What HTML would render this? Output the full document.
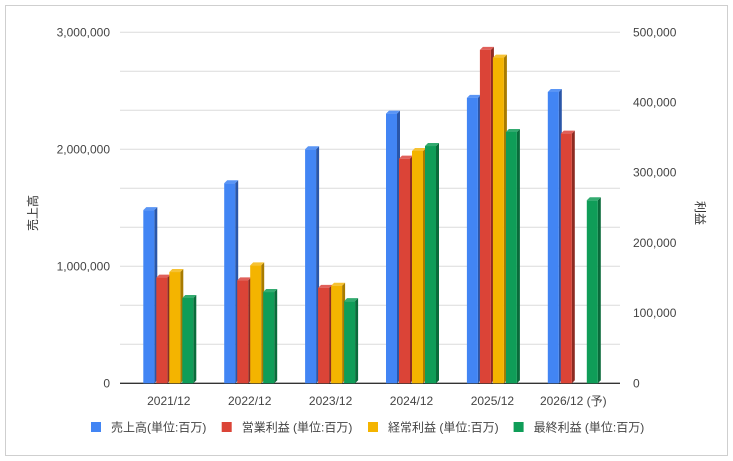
<!DOCTYPE html>
<html><head><meta charset="utf-8">
<style>
html,body{margin:0;padding:0;background:#fff;}
svg{display:block;font-family:"Liberation Sans","Noto Sans CJK JP",sans-serif;}
</style></head>
<body>
<svg id="chart" width="733" height="461" xmlns="http://www.w3.org/2000/svg">
<rect x="5.5" y="5.5" width="722" height="450" fill="#fff" stroke="#cfcfcf"/>
<g id="grid"></g><g id="bars"></g><g id="labels"></g>
<text transform="translate(37,213) rotate(-90)" text-anchor="middle" font-size="12" fill="#333">売上高</text>
<text transform="translate(696,213) rotate(90)" text-anchor="middle" font-size="12" fill="#333">利益</text>
<g id="legend"></g>
</svg>
<script>
const categories=["2021/12","2022/12","2023/12","2024/12","2025/12","2026/12 (予)"];
const revenue=[1480000,1710000,2000000,2305000,2440000,2490000];
const opProfit=[150600,146700,136000,320000,475000,355700];
const ordProfit=[158500,168000,139000,331000,464000,null];
const netProfit=[121500,130000,117000,338000,358000,260700];
const leftTicks=[0,1000000,2000000,3000000];
const rightTicks=[0,100000,200000,300000,400000,500000];
const legendLabels=["売上高(単位:百万)","営業利益 (単位:百万)","経常利益 (単位:百万)","最終利益 (単位:百万)"];

const NS="http://www.w3.org/2000/svg";
const plotTop=32.3,plotBot=383.3,x0=120,x1=620;
const yL=v=>plotBot-v/3000000*(plotBot-plotTop);
const yR=v=>plotBot-v/500000*(plotBot-plotTop);
const groupW=80.9;
const xC=i=>168.8+groupW*i;
function mk(tag,attrs,parent){const e=document.createElementNS(NS,tag);for(const k in attrs)e.setAttribute(k,attrs[k]);parent.appendChild(e);return e;}
const grid=document.getElementById('grid'),bars=document.getElementById('bars'),labels=document.getElementById('labels'),legend=document.getElementById('legend');
for(let i=0;i<=9;i++){const y=plotTop+i*(plotBot-plotTop)/9;
 const l=mk('line',{x1:x0,x2:x1,y1:y,y2:y,stroke:i==9?'#333':'#dcdcdc','stroke-width':i==9?1.3:1},grid);
 
 }
leftTicks.forEach(v=>{const t=mk('text',{x:110,y:yL(v)+4,'text-anchor':'end','font-size':12,fill:'#444'},labels);t.textContent=v.toLocaleString('en-US');
 
 });
rightTicks.forEach(v=>{const t=mk('text',{x:633,y:yR(v)+4,'font-size':12,fill:'#444'},labels);t.textContent=v.toLocaleString('en-US');
 
 });
categories.forEach((c,i)=>{const t=mk('text',{x:xC(i),y:405,'text-anchor':'middle','font-size':12,fill:'#444'},labels);t.textContent=c;
 
 });
const series=[{d:revenue,s:yL,c:'#4285f4',side:'#2a56a8',tp:'#5a95f5'},{d:opProfit,s:yR,c:'#db4437',side:'#8e2b22',tp:'#e0605a'},{d:ordProfit,s:yR,c:'#f4b400',side:'#a87b00',tp:'#f6c233'},{d:netProfit,s:yR,c:'#0f9d58',side:'#0a6b3b',tp:'#33ab70'}];
const bw=11,pitch=13,dp=3;
series.forEach((s,si)=>{s.d.forEach((v,i)=>{if(v==null)return;
 const x=xC(i)-25.5+si*pitch,y=s.s(v),h=plotBot-y;
 const g=mk('g',{},bars);
 
 
 mk('polygon',{points:`${x+bw},${y} ${x+bw+dp},${y-dp} ${x+bw+dp},${plotBot-dp} ${x+bw},${plotBot}`,fill:s.side},g);
 mk('polygon',{points:`${x},${y} ${x+dp},${y-dp} ${x+bw+dp},${y-dp} ${x+bw},${y}`,fill:s.tp},g);
 mk('rect',{x:x,y:y,width:bw,height:h,fill:s.c},g);});});
const lx=[91,221.7,368,513.6];
legendLabels.forEach((l,i)=>{const g=mk('g',{},legend);
 
 
 mk('rect',{x:lx[i],y:422,width:10,height:10,fill:series[i].c},g);
 const t=mk('text',{x:lx[i]+20,y:431.5,'font-size':12,fill:'#444'},g);t.textContent=l;});
</script>
</body></html>
